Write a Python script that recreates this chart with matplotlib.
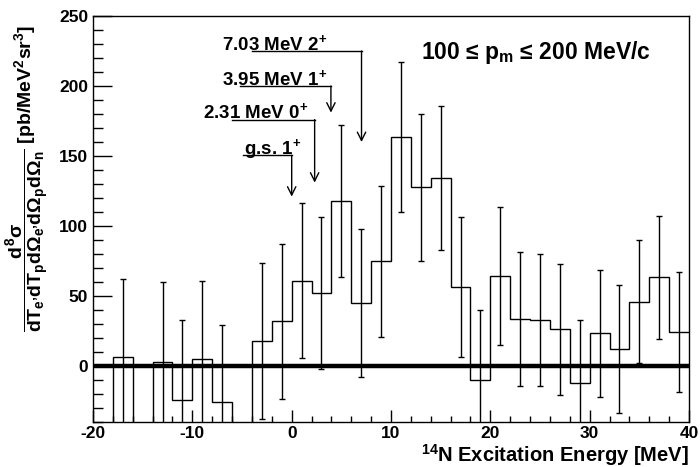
import numpy as np
import matplotlib
matplotlib.use("Agg")
import matplotlib.pyplot as plt
from matplotlib.ticker import MultipleLocator

plt.rcParams['font.family'] = ['Liberation Sans', 'DejaVu Sans']
plt.rcParams['font.weight'] = 'bold'
plt.rcParams['axes.labelweight'] = 'bold'
plt.rcParams['axes.unicode_minus'] = False
plt.rcParams['mathtext.fontset'] = 'custom'
plt.rcParams['mathtext.rm'] = 'Liberation Sans:bold'
plt.rcParams['mathtext.it'] = 'Liberation Sans:bold'
plt.rcParams['mathtext.bf'] = 'Liberation Sans:bold'

# 2 MeV bins from -20 to 40 MeV
edges = np.arange(-20, 42, 2)
# bins lying below the frame are given -100 and no error bar
counts = [-100, 6.4, -100, 3.0, -24.5, 5.0, -26.0, -100, 17.8, 32.0,
          61.0, 52.0, 118.0, 45.0, 74.8, 163.3, 127.7, 134.3, 56.5, -10.0,
          64.3, 33.5, 32.7, 26.1, -12.4, 23.4, 12.0, 46.0, 63.3, 24.5]
errors = [np.nan, 56.0, np.nan, 57.0, 57.4, 56.0, 55.5, np.nan, 55.7, 55.4,
          55.5, 54.5, 54.3, 53.2, 53.8, 53.5, 52.5, 51.6, 50.2, 50.0,
          49.0, 48.0, 47.0, 46.8, 45.3, 45.2, 45.5, 44.0, 43.8, 42.8]

# level annotations: label, text x, line start x, line y, arrow tip y, state energy
lvl_labels = ['7.03 MeV 2$^{+}$', '3.95 MeV 1$^{+}$', '2.31 MeV 0$^{+}$', 'g.s. 1$^{+}$']
lvl_energy = [7.03, 3.95, 2.31, 0.0]
lvl_text_x = [-7.0, -7.05, -8.9, -4.77]
lvl_line_x0 = [-4.0, -5.2, -6.0, -4.9]
lvl_line_y = [225, 200, 176, 150.5]
lvl_tip_y = [160, 181, 131, 121]

fig = plt.figure(figsize=(7, 4.67), dpi=100)
ax = fig.add_axes([0.1329, 0.0964, 0.8514, 0.8693])

counts = np.array(counts)
errors = np.array(errors)
centers = 0.5 * (edges[:-1] + edges[1:])
ok = ~np.isnan(errors)

ax.stairs(counts, edges, color='k', lw=1, baseline=None)
ax.errorbar(centers[ok], counts[ok], yerr=errors[ok], fmt='none', ecolor='k',
            elinewidth=1, capsize=2.5, capthick=1)
ax.axhline(0, color='k', lw=3.2, zorder=3)

for lab, e, tx, x0, ly, ty in zip(lvl_labels, lvl_energy, lvl_text_x,
                                  lvl_line_x0, lvl_line_y, lvl_tip_y):
    ax.plot([x0, e], [ly, ly], color='k', lw=1)
    ax.annotate('', xy=(e, ty), xytext=(e, ly),
                arrowprops=dict(arrowstyle='->,head_length=0.6,head_width=0.3',
                                color='k', lw=1, shrinkA=0, shrinkB=0))
    ax.text(tx, ly + 1, lab, fontsize=13.5, ha='left', va='baseline')

ax.text(24.6, 224, '100 ≤ p$_{\\mathrm{m}}$ ≤ 200 MeV/c', fontsize=16.5,
        ha='center', va='center')

ax.set_xlim(-20, 40)
ax.set_ylim(-40, 250)
ax.xaxis.set_major_locator(MultipleLocator(10))
ax.xaxis.set_minor_locator(MultipleLocator(2))
ax.yaxis.set_major_locator(MultipleLocator(50))
ax.yaxis.set_minor_locator(MultipleLocator(10))
ax.tick_params(axis='both', which='both', direction='in', labelsize=12.5)
ax.tick_params(axis='y', which='major', length=13.5, width=1)
ax.tick_params(axis='y', which='minor', length=7, width=1)
ax.tick_params(axis='x', which='major', length=9, width=1, pad=3)
ax.tick_params(axis='x', which='minor', length=4, width=1)
for s in ax.spines.values():
    s.set_linewidth(1)

ax.set_xlabel('$^{14}$N Excitation Energy [MeV]', fontsize=14.5, ha='right')
ax.xaxis.set_label_coords(1.0, -0.049)
ax.set_ylabel('$\\dfrac{d^{8}\\sigma}{dT_{e’}dT_{p}d\\Omega_{e’}d\\Omega_{p}d\\Omega_{n}}$ [pb/MeV$^{2}$sr$^{3}$]',
              fontsize=14, va='center')
ax.yaxis.set_label_coords(-0.11, 0.60)

fig.savefig('out.png', dpi=100)
